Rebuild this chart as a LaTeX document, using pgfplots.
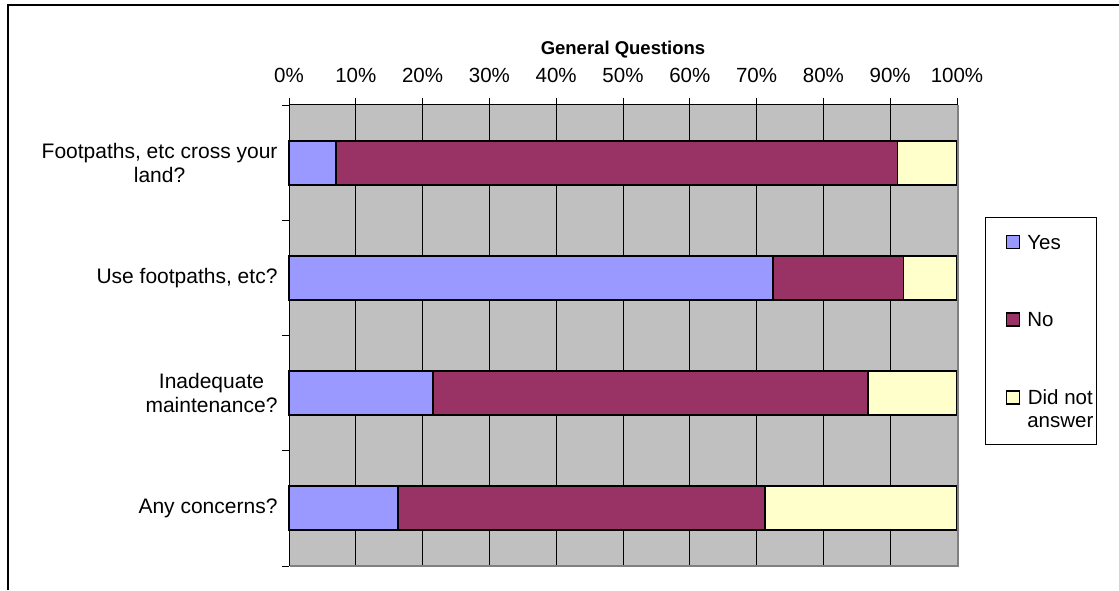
\documentclass[border=0pt]{standalone}
\usepackage{fontspec}
\setmainfont{Liberation Sans}
\usepackage{pgfplots}
\pgfplotsset{compat=1.18}
\definecolor{cyes}{HTML}{9999FF}
\definecolor{cno}{HTML}{993366}
\definecolor{cdna}{HTML}{FFFFCC}
\definecolor{plotbg}{HTML}{C0C0C0}
\definecolor{bordergrey}{HTML}{808080}
\newcommand\fs{\fontsize{20.5}{24}\selectfont}
\newcommand\fsy{\fontsize{21}{24}\selectfont}
\newcommand\dna{\vtop{\baselineskip=23pt\halign{\hfil##\hfil\cr Did not\cr answer\cr}}}
\begin{document}
\begin{tikzpicture}[x=1pt,y=1pt]
\useasboundingbox (0,0) rectangle (1119,590);
\begin{axis}[
  at={(289pt,24pt)}, anchor=south west,
  scale only axis, width=668pt, height=461pt,
  clip=false,
  xbar stacked, bar width=44pt,
  xmin=0, xmax=100, ymin=-0.5, ymax=3.5,
  axis line style={draw=none},
  xtick pos=upper, xticklabel pos=upper, ytick pos=left,
  axis background/.style={fill=plotbg},
  xtick={0,10,...,100},
  xticklabels={0\%,10\%,20\%,30\%,40\%,50\%,60\%,70\%,80\%,90\%,100\%},
  xticklabel style={yshift=12pt},
  xmajorgrids, grid style={black, line width=0.9pt},
  tick align=outside, major tick length=7pt,
  tick style={black, line width=0.9pt},
  ytick={-0.5,0.5,1.5,2.5,3.5}, yticklabels={,,,,},
  extra y ticks={0,1,2,3},
  extra y tick labels={Any concerns?,{Inadequate\\maintenance?},{Use footpaths, etc?},{Footpaths, etc cross your\\land?}},
  extra y tick style={major tick length=0pt, yticklabel style={align=center, font=\fsy, xshift=-8pt}},
  tick label style={font=\fs},
  title={General Questions},
  title style={font=\fontsize{18.5}{22}\selectfont\bfseries, at={(axis description cs:0.5,1)}, anchor=base, yshift=44pt},
  every axis plot/.append style={legend image code/.code={\path[draw=none,fill=none] (0pt,0pt) -- (1pt,0pt); \draw[##1, draw=black, line width=1.5pt] (18pt,0.5pt) rectangle (31pt,13.5pt);}},
  legend style={at={(axis description cs:1.042,0.509)}, anchor=west, draw=black, line width=1pt, fill=white,
    inner xsep=3pt, inner ysep=17pt, row sep=63pt, column sep=7pt, font=\fs,
    cells={anchor=base west}, nodes={inner sep=0pt, text depth={}}},
]
\draw[bordergrey, line width=2pt] ([xshift=1pt]axis description cs:0,0) -- ([xshift=1pt]axis description cs:1,0) -- ([xshift=1pt]axis description cs:1,1);
\draw[black, line width=1pt] (axis description cs:0,0) -- (axis description cs:0,1) -- (axis description cs:1,1);
\pgfplotsinvokeforeach{0,10,...,100}{\draw[black, line width=0.9pt] (axis cs:#1,3.5) -- ([yshift=7pt]axis cs:#1,3.5);}
\addplot[fill=cyes, draw=black, line width=1.8pt] coordinates {(16.3,0) (21.5,1) (72.4,2) (7.0,3)};
\addplot[fill=cno, draw=black, line width=1.8pt] coordinates {(54.9,0) (65.2,1) (19.6,2) (84.1,3)};
\addplot[fill=cdna, draw=black, line width=1.8pt] coordinates {(28.8,0) (13.3,1) (8.0,2) (8.9,3)};
\addlegendentry{Yes}
\addlegendentry{No}
\addlegendentry{\dna}
\end{axis}
\draw[line width=1.5pt] (8,0) -- (8,585) -- (1119,585);
\end{tikzpicture}
\end{document}
